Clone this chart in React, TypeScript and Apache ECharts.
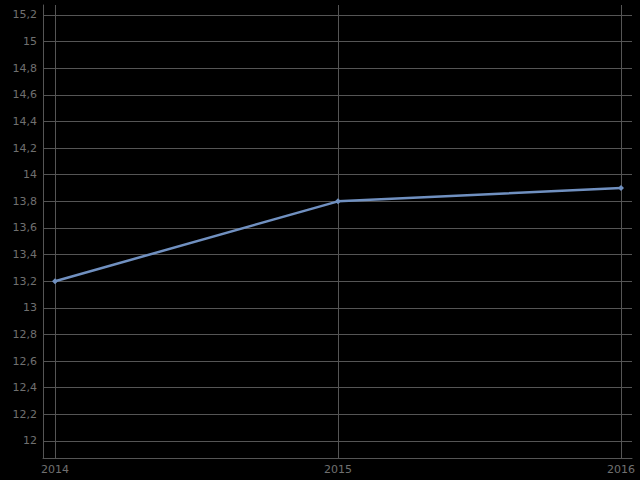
import React, { useEffect, useRef } from "react";
import * as echarts from "echarts";

const years = ["2014", "2015", "2016"];
const values = [13.2, 13.8, 13.9];
const yMin = 11.872;
const yMax = 15.275;
const tickMin = 11.8;
const tickStep = 0.2;

export default function App() {
  const ref = useRef<HTMLDivElement>(null);
  useEffect(() => {
    const chart = echarts.init(ref.current!, null, { renderer: "svg" });
    const fmt = (v: number) => String(Math.round(v * 10) / 10).replace(".", ",");
    const gridColor = "#555555";
    const labelColor = "#707070";
    // plot area: x 43..632, y 5..458
    const top = 5, bottom = 480 - 458;
    const pxPerUnit = (458 - 5) / (yMax - yMin);
    const tickBottom = bottom - (yMin - tickMin) * pxPerUnit;
    chart.setOption({
      animation: false,
      backgroundColor: "#000000",
      textStyle: { fontFamily: "DejaVu Sans" },
      grid: [
        { left: 55, right: 19, top, bottom, containLabel: false },
        { left: 43, right: 8, top, bottom: tickBottom, containLabel: false },
        { left: 43, right: 8, top, bottom, containLabel: false },
      ],
      xAxis: [
        {
          gridIndex: 0,
          type: "category",
          data: years,
          boundaryGap: false,
          axisLine: { show: false },
          axisTick: { show: false },
          axisLabel: { color: labelColor, fontSize: 11, margin: 6 },
          splitLine: { show: true, lineStyle: { color: gridColor, width: 1 } },
        },
        { gridIndex: 1, type: "value", show: false },
        {
          gridIndex: 2,
          type: "value",
          min: 0,
          max: 1,
          axisLine: { show: true, lineStyle: { color: gridColor, width: 1 } },
          axisTick: { show: false },
          axisLabel: { show: false },
          splitLine: { show: false },
        },
      ],
      yAxis: [
        { gridIndex: 0, type: "value", min: yMin, max: yMax, show: false, splitLine: { show: false } },
        {
          gridIndex: 1,
          type: "value",
          min: tickMin,
          max: yMax,
          interval: tickStep,
          axisLine: { show: false },
          axisTick: { show: false },
          axisLabel: { color: labelColor, fontSize: 11, margin: 6, formatter: fmt, showMinLabel: false, showMaxLabel: false },
          splitLine: { show: true, showMinLine: false, showMaxLine: false, lineStyle: { color: gridColor, width: 1 } },
        },
        {
          gridIndex: 2,
          type: "value",
          min: 0,
          max: 1,
          axisLine: { show: true, lineStyle: { color: gridColor, width: 1 } },
          axisTick: { show: false },
          axisLabel: { show: false },
          splitLine: { show: false },
        },
      ],
      series: [
        {
          type: "line",
          xAxisIndex: 0,
          yAxisIndex: 0,
          data: values,
          symbol: "diamond",
          symbolSize: 6,
          z: 5,
          lineStyle: { color: "#7090c0", width: 2.5 },
          itemStyle: { color: "#7090c0" },
        },
      ],
    });
    return () => chart.dispose();
  }, []);
  return <div ref={ref} style={{ width: 640, height: 480, position: "absolute", left: 0, top: 0 }} />;
}
